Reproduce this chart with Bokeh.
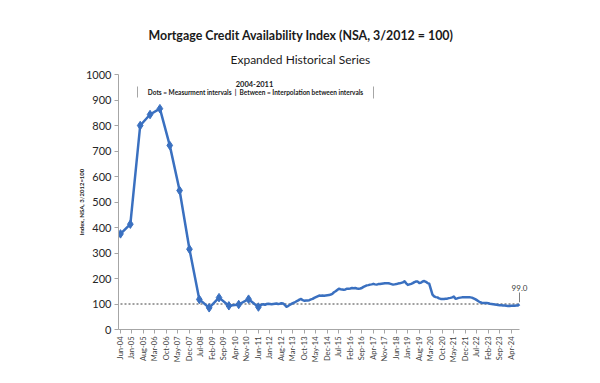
import math
from bokeh.plotting import figure
from bokeh.models import Range1d, FixedTicker, Label, ColumnDataSource, Title
from bokeh.embed import file_html
from bokeh.resources import INLINE

# ---------------- data ----------------
MONTHS = ["Jan", "Feb", "Mar", "Apr", "May", "Jun",
          "Jul", "Aug", "Sep", "Oct", "Nov", "Dec"]

# 2004-2011 semi-annual measurement points (dots)
hist_dates = ["Jun-04", "Dec-04", "Jun-05", "Dec-05", "Jun-06", "Dec-06",
              "Jun-07", "Dec-07", "Jun-08", "Dec-08", "Jun-09", "Dec-09",
              "Jun-10", "Dec-10", "Jun-11"]
hist_values = [375, 413, 800, 843, 866, 722, 545, 315, 118, 85, 125, 93,
               98, 119, 88]

# monthly series from Jul-11 to Sep-24
monthly_start = "Jul-11"
monthly_values = [
    95, 98, 99, 97, 100, 101,                                   # 2011 Jul-Dec
    100, 99, 100, 101, 102, 100, 101, 103, 102, 97, 89, 92,     # 2012
    96, 100, 103, 106, 110, 113, 117, 120, 115, 113, 114, 114,  # 2013
    115, 118, 120, 124, 127, 130, 133, 132, 133, 132, 133, 134, # 2014
    135, 137, 140, 146, 150, 155, 160, 158, 157, 156, 157, 160, # 2015
    160, 161, 163, 162, 163, 161, 160, 161, 163, 167, 170, 173, # 2016
    174, 176, 177, 179, 177, 176, 178, 178, 179, 180, 181, 181, # 2017
    181, 180, 178, 176, 177, 178, 180, 181, 183, 185, 189, 181, # 2018
    175, 177, 179, 182, 186, 188, 188, 182, 184, 188, 190, 187, # 2019
    182, 180, 158, 137, 130, 127, 126, 122, 120, 120, 120, 121, # 2020
    121, 123, 124, 126, 129, 121, 122, 124, 125, 126, 126, 126, # 2021
    126, 126, 126, 125, 122, 119, 115, 111, 107, 105, 104, 104, # 2022
    104, 103, 101, 100, 99, 98, 97, 96, 95, 95, 94, 94,         # 2023
    93, 92, 92, 93, 93, 93, 94, 94, 99,                         # 2024 Jan-Sep
]

tick_labels = ["Jun-04", "Jan-05", "Aug-05", "Mar-06", "Oct-06", "May-07",
               "Dec-07", "Jul-08", "Feb-09", "Sep-09", "Apr-10", "Nov-10",
               "Jun-11", "Jan-12", "Aug-12", "Mar-13", "Oct-13", "May-14",
               "Dec-14", "Jul-15", "Feb-16", "Sep-16", "Apr-17", "Nov-17",
               "Jun-18", "Jan-19", "Aug-19", "Mar-20", "Oct-20", "May-21",
               "Dec-21", "Jul-22", "Feb-23", "Sep-23", "Apr-24"]
y_ticks = [0, 100, 200, 300, 400, 500, 600, 700, 800, 900, 1000]
end_label = "99.0"


def midx(lbl):
    m, y = lbl.split("-")
    return (2000 + int(y) - 2004) * 12 + MONTHS.index(m) + 1 - 6


hist_x = [midx(d) for d in hist_dates]
s0 = midx(monthly_start)
mon_x = list(range(s0, s0 + len(monthly_values)))
all_x = hist_x + mon_x
all_y = hist_values + monthly_values
x_max = all_x[-1]

# ---------------- layout ----------------
W, H = 584, 367
X0PX, X1PX = 120, 519          # px of first / last data month
FT, FB = 74, 329               # frame top / bottom
FL, FR = 118, 530              # frame left / right
k = (X1PX - X0PX) / x_max
x_lo = (FL - X0PX) / k
x_hi = x_max + (FR - X1PX) / k


def dx(px):  # px -> data x
    return (px - X0PX) / k


def dy(py):  # px -> data y
    return (FB - py) * 1000 / (FB - FT)


p = figure(width=W, height=H, x_range=Range1d(x_lo, x_hi), y_range=Range1d(0, 1000),
           output_backend="svg", toolbar_location=None,
           min_border_left=FL, min_border_right=W - FR,
           min_border_top=FT, min_border_bottom=H - FB)
p.xgrid.visible = False
p.ygrid.visible = False
p.outline_line_color = None
p.background_fill_color = "white"
p.border_fill_color = "white"

FONT = "Lato"
AX = "#A6A6A6"
TXT = "#1a1a1a"

# titles (added nearest-first)
p.add_layout(Title(text="Expanded Historical Series", align="left", offset=230 - FL,
                   text_font=FONT, text_font_size="12px", text_font_style="normal",
                   text_color=TXT, standoff=16), "above")
p.add_layout(Title(text="Mortgage Credit Availability Index (NSA, 3/2012 = 100)",
                   align="left", offset=148 - FL, text_font=FONT, text_font_size="12.4px",
                   text_font_style="bold", text_color=TXT, standoff=-3), "above")

# y axis
p.yaxis.ticker = FixedTicker(ticks=y_ticks)
p.yaxis.axis_line_color = AX
p.yaxis.major_tick_line_color = AX
p.yaxis.major_tick_out = 4
p.yaxis.major_tick_in = 0
p.yaxis.minor_tick_line_color = None
p.yaxis.major_label_text_font = FONT
p.yaxis.major_label_text_font_size = "11px"
p.yaxis.major_label_text_color = "#262626"
p.yaxis.major_label_standoff = 3
p.yaxis.axis_label = "Index, NSA, 3/2012=100"
p.yaxis.axis_label_text_font = FONT
p.yaxis.axis_label_text_font_size = "6px"
p.yaxis.axis_label_text_font_style = "bold"
p.yaxis.axis_label_text_color = TXT
p.yaxis.axis_label_standoff = -2

# x axis
tick_pos = [midx(t) for t in tick_labels]
p.xaxis.ticker = FixedTicker(ticks=tick_pos)
p.xaxis.major_label_overrides = {tp: t for tp, t in zip(tick_pos, tick_labels)}
p.xaxis.major_label_orientation = math.pi / 2
p.xaxis.bounds = (x_lo, x_max)
p.xaxis.axis_line_color = AX
p.xaxis.major_tick_line_color = AX
p.xaxis.major_tick_out = 4
p.xaxis.major_tick_in = 0
p.xaxis.minor_tick_line_color = None
p.xaxis.major_label_text_font = FONT
p.xaxis.major_label_text_font_size = "7.5px"
p.xaxis.major_label_text_color = "#404040"
p.xaxis.major_label_standoff = 3

# reference line at 100
p.segment(x0=[0], y0=[100], x1=[x_max], y1=[100], line_color="#404040",
          line_width=1, line_dash="2 2")

BLUE = "#3A70C0"
src = ColumnDataSource(dict(x=all_x, y=all_y))
p.line("x", "y", source=src, line_color=BLUE, line_width=2.5, line_join="round")
hsrc = ColumnDataSource(dict(x=hist_x, y=hist_values))
p.scatter("x", "y", source=hsrc, marker="diamond", size=8.5,
          fill_color=BLUE, line_color=BLUE)

# end label with leader
p.segment(x0=[x_max], y0=[dy(292)], x1=[x_max], y1=[all_y[-1] + 8],
          line_color="#7F7F7F", line_width=1)
p.add_layout(Label(x=x_max, y=dy(287), text=end_label, text_align="center",
                   text_baseline="middle", text_font=FONT,
                   text_font_size="8px", text_color="#404040"))

# annotation
p.add_layout(Label(x=dx(254), y=dy(83.5), text="2004-2011",
                   text_align="center", text_baseline="middle", text_font=FONT,
                   text_font_size="7.5px", text_font_style="bold", text_color=TXT))
p.add_layout(Label(x=dx(255), y=dy(91.5),
                   text="Dots = Measurment intervals \u00a0|\u00a0 Between = Interpolation between intervals",
                   text_align="center", text_baseline="middle", text_font=FONT,
                   text_font_size="6.5px", text_font_style="bold", text_color=TXT))
p.segment(x0=[dx(137), dx(373)], y0=[dy(86), dy(86)], x1=[dx(137), dx(373)],
          y1=[dy(97), dy(98)], line_color="#A6A6A6", line_width=1)

open("out.html", "w").write(file_html(p, INLINE))
